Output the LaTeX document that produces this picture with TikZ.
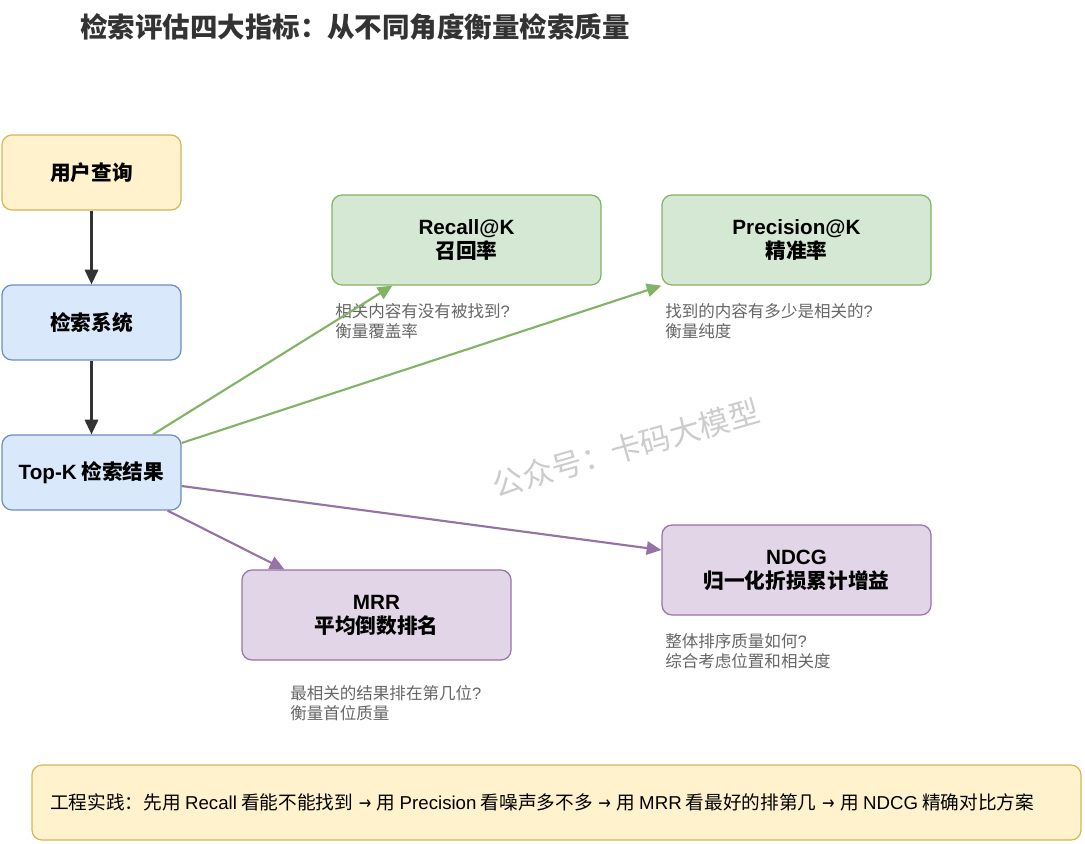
\documentclass[tikz,border=0pt]{standalone}
\usepackage{fontspec}
\setmainfont{Noto Sans CJK SC}
\newfontfamily\enfont{Liberation Sans}
\newfontfamily\symfont{DejaVu Sans}
\usetikzlibrary{arrows.meta,calc}

\definecolor{yellowfill}{HTML}{FFF2CC}
\definecolor{yellowline}{HTML}{D6B656}
\definecolor{bluefill}{HTML}{DAE8FC}
\definecolor{blueline}{HTML}{6C8EBF}
\definecolor{greenfill}{HTML}{D5E8D4}
\definecolor{greenline}{HTML}{82B366}
\definecolor{purplefill}{HTML}{E1D5E7}
\definecolor{purpleline}{HTML}{9673A6}
\definecolor{darkline}{HTML}{333333}
\definecolor{notegray}{HTML}{666666}

\newcommand{\thenarrow}{\hspace{0.3em}{\symfont\scalebox{0.8}[1]{→}}\hspace{0.3em}}

\begin{document}
\begin{tikzpicture}[x=0.75pt, y=-0.75pt, >={Triangle[length=11pt,width=10pt]},
  box/.style={draw, rounded corners=7.5pt, line width=0.9pt, align=center,
    font=\fontsize{15.5}{18}\selectfont\bfseries},
  smallbox/.style={box, minimum width=134.25pt, minimum height=56.25pt},
  bigbox/.style={box, minimum width=201.75pt, minimum height=67.5pt},
  note/.style={anchor=west, align=left, inner sep=0pt, text=notegray,
    font=\fontsize{12.4}{15}\selectfont},
  link/.style={->, line width=1.6pt}]
  \useasboundingbox (0,0) rectangle (1085,843);
  \fill[white] (0,0) rectangle (1085,843);
  % title
  \node[anchor=west, inner sep=0pt, text=darkline, font=\fontsize{20.6}{26}\selectfont\bfseries] (title) at (80,27) {检索评估四大指标：从不同角度衡量检索质量};
  % watermark
  \node[rotate=16, text=black!20, font=\fontsize{23}{28}\selectfont] (mark) at (626,448) {公众号：卡码大模型};
  % pipeline (left)
  \node[smallbox, fill=yellowfill, draw=yellowline] (query) at (91.5,172.5) {用户查询};
  \node[smallbox, fill=bluefill, draw=blueline] (system) at (91.5,322.5) {检索系统};
  \node[smallbox, fill=bluefill, draw=blueline] (topk) at (91.5,472.5) {{\enfont Top-K} 检索结果};
  \draw[link, darkline] (query) -- (system);
  \draw[link, darkline] (system) -- (topk);
  % metrics (green)
  \node[bigbox, fill=greenfill, draw=greenline] (recall) at (466.5,240) {{\enfont Recall@K}\\召回率};
  \node[bigbox, fill=greenfill, draw=greenline] (precision) at (796.5,240) {{\enfont Precision@K}\\精准率};
  \node[note] (recalltxt) at (335,321) {相关内容有没有被找到{\enfont ?}\\衡量覆盖率};
  \node[note] (precisiontxt) at (665,321) {找到的内容有多少是相关的{\enfont ?}\\衡量纯度};
  \draw[link, greenline] ($(topk.north)+(61.5,0)$) -- ($(recall.south west)+(61,0)$);
  \draw[link, greenline] ($(topk.east)+(0,-29.5)$) -- ($(precision.south west)+(0,0)$);
  % metrics (purple)
  \node[bigbox, fill=purplefill, draw=purpleline] (mrr) at (376.5,615) {{\enfont MRR}\\平均倒数排名};
  \node[bigbox, fill=purplefill, draw=purpleline] (ndcg) at (796.5,570) {{\enfont NDCG}\\归一化折损累计增益};
  \node[note] (mrrtxt) at (290,703.5) {最相关的结果排在第几位{\enfont ?}\\衡量首位质量};
  \node[note] (ndcgtxt) at (665,651) {整体排序质量如何{\enfont ?}\\综合考虑位置和相关度};
  \draw[link, purpleline] ($(topk.south east)+(-14,0)$) -- ($(mrr.north west)+(43,0)$);
  \draw[link, purpleline] ($(topk.east)+(0,13.5)$) -- ($(ndcg.west)+(0,-20)$);
  % practice
  \node[draw=yellowline, fill=yellowfill, rounded corners=7.5pt, line width=0.9pt,
    minimum width=786.75pt, minimum height=56.25pt] (practice) at (556.5,802.5) {};
  \node[anchor=west, inner sep=0pt, font=\fontsize{14}{16}\selectfont] (practicetxt) at (50,802.5)
    {工程实践：先用 {\enfont Recall} 看能不能找到\thenarrow 用 {\enfont Precision} 看噪声多不多\thenarrow 用 {\enfont MRR} 看最好的排第几\thenarrow 用 {\enfont NDCG} 精确对比方案};
\end{tikzpicture}
\end{document}
